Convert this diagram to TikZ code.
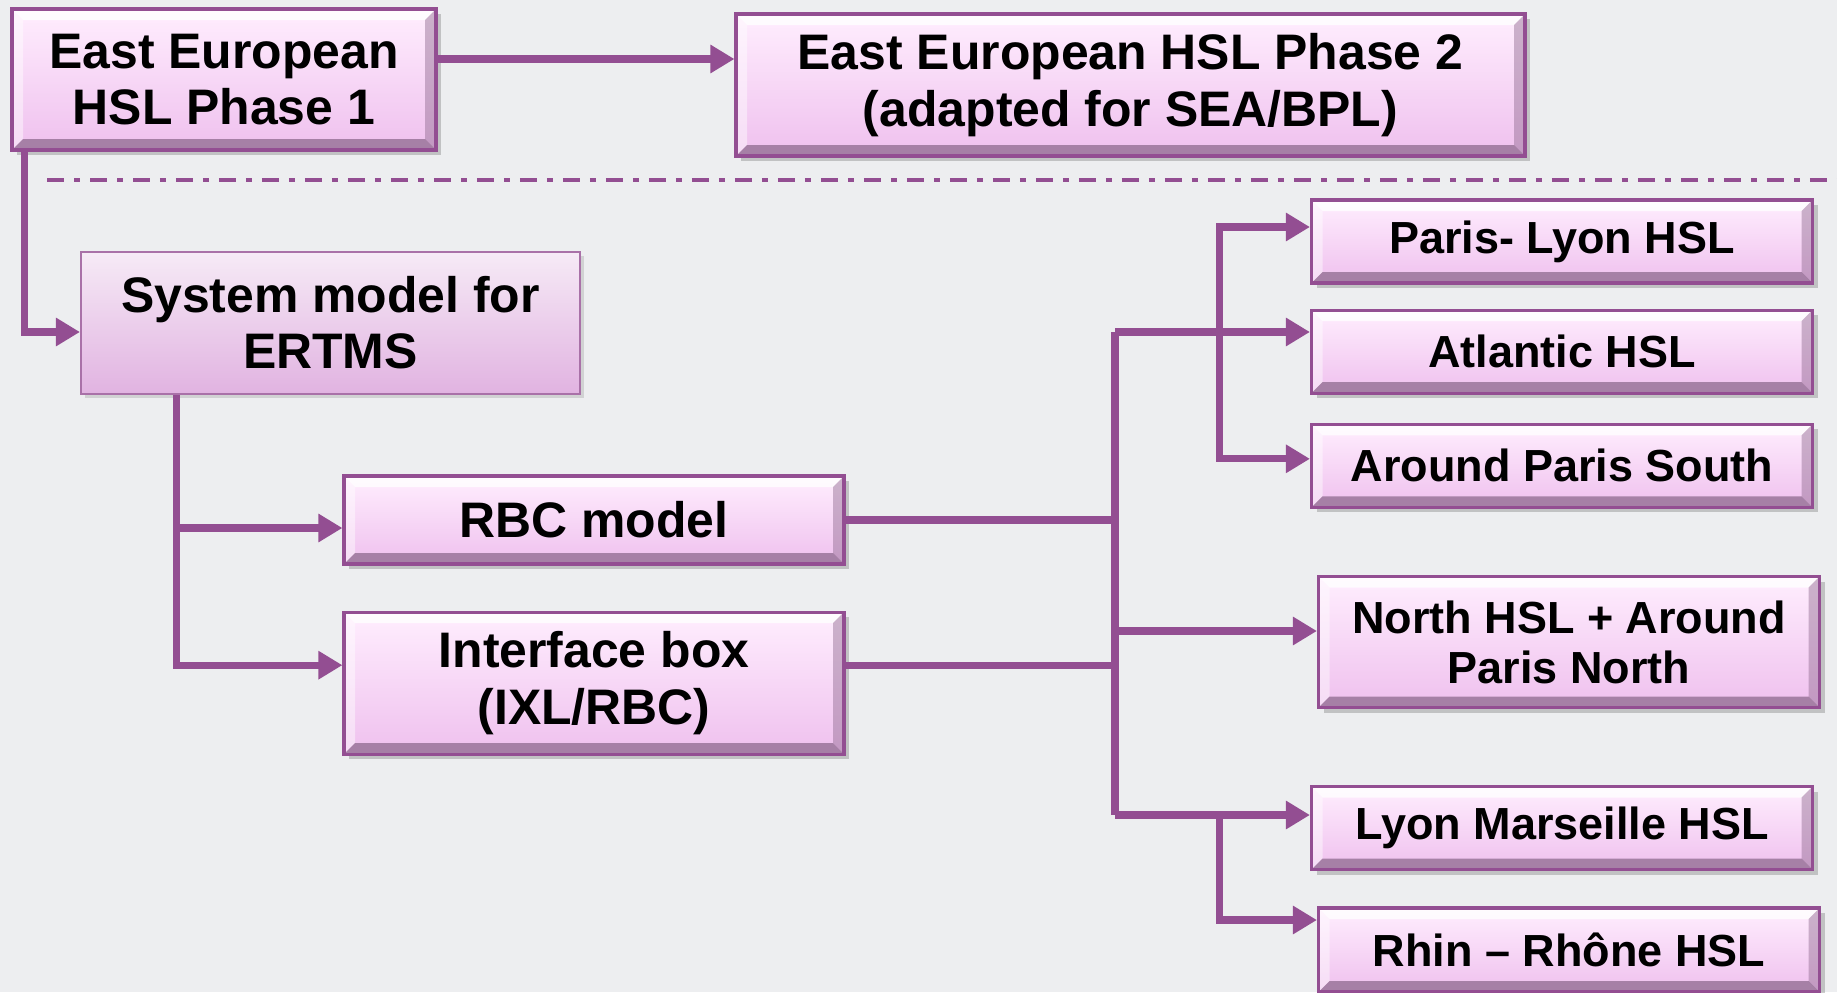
\documentclass[tikz,border=0pt]{standalone}
\usepackage{fontspec}
\setmainfont{Liberation Sans}
\usetikzlibrary{arrows.meta}
\usetikzlibrary{shadows}
\usetikzlibrary{positioning}

\definecolor{bgcol}{HTML}{EDEEF0}
\definecolor{linkcol}{HTML}{934E92}
\definecolor{boxtop}{HTML}{FFEEFE}
\definecolor{boxbot}{HTML}{EFC0EE}
\definecolor{systop}{HTML}{F6EAF6}
\definecolor{sysbot}{HTML}{E1B3E1}
\definecolor{bevdark}{HTML}{8E6A8E}

% bevelled edge of the pink boxes
\newcommand{\bevelbox}{%
  \fill[white,opacity=0.8] (path picture bounding box.north west)
    -- (path picture bounding box.north east)
    -- ([xshift=-1.1mm,yshift=-1.1mm]path picture bounding box.north east)
    -- ([xshift=1.1mm,yshift=-1.1mm]path picture bounding box.north west) -- cycle;
  \fill[white,opacity=0.45] (path picture bounding box.north west)
    -- ([xshift=1.1mm,yshift=-1.1mm]path picture bounding box.north west)
    -- ([xshift=1.1mm,yshift=1.1mm]path picture bounding box.south west)
    -- (path picture bounding box.south west) -- cycle;
  \fill[bevdark,opacity=0.45] (path picture bounding box.north east)
    -- ([xshift=-1.1mm,yshift=-1.1mm]path picture bounding box.north east)
    -- ([xshift=-1.1mm,yshift=1.1mm]path picture bounding box.south east)
    -- (path picture bounding box.south east) -- cycle;
  \fill[bevdark,opacity=0.75] (path picture bounding box.south west)
    -- ([xshift=1.1mm,yshift=1.1mm]path picture bounding box.south west)
    -- ([xshift=-1.1mm,yshift=1.1mm]path picture bounding box.south east)
    -- (path picture bounding box.south east) -- cycle;}

\begin{document}
\begin{tikzpicture}[x=0.1mm,y=-0.1mm,inner sep=0pt,
    hslbox/.style={draw=linkcol,line width=0.9pt,top color=boxtop,bottom color=boxbot,
      minimum width=50.1mm,minimum height=8.3mm,align=center,
      font=\fontsize{14.2}{16}\selectfont\bfseries,
      drop shadow={shadow xshift=0.5mm,shadow yshift=-0.5mm,opacity=0.4},
      path picture={\bevelbox}},
    linebox/.style={hslbox,font=\fontsize{12.8}{14.2}\selectfont\bfseries},
    sysbox/.style={draw=linkcol!80,line width=0.6pt,top color=systop,bottom color=sysbot,
      align=center,font=\fontsize{14.2}{16}\selectfont\bfseries,
      drop shadow={shadow xshift=0.4mm,shadow yshift=-0.4mm,opacity=0.25}},
    link/.style={linkcol,line width=2pt},
    flow/.style={link,-{Triangle[length=2.4mm,width=2.7mm]}},
    sepline/.style={linkcol,line width=1.2pt,
      dash pattern=on 1.7mm off 1mm on 0.6mm off 1mm}]
        \fill[bgcol] (0,0) rectangle (1837,992);
        \useasboundingbox (0,0) rectangle (1837,992);

        \draw node [hslbox,minimum width=42.4mm,minimum height=14.1mm] (EE1)
            at (224,79.5) {East European\\HSL Phase 1};
        \draw node [hslbox,minimum width=78.9mm,minimum height=14.2mm] (EE2)
            at (1130.5,85) {East European HSL Phase 2\\(adapted for SEA/BPL)};
        \draw node [sysbox,minimum width=49.9mm,minimum height=14.2mm] (SYS)
            at (330.5,323) {System model for\\ERTMS};
        \draw node [hslbox,minimum width=50mm,minimum height=8.8mm] (RBC)
            at (594,520) {RBC model};
        \draw node [hslbox,minimum width=50mm,minimum height=14.2mm,below=4.5mm of RBC]
            (IFB) {Interface box\\(IXL/RBC)};
        \draw node [linebox] (PLY) at (1562,241.5) {Paris- Lyon HSL};
        \draw node [linebox,below=2.4mm of PLY] (ATL) {Atlantic HSL};
        \draw node [linebox,below=2.8mm of ATL] (APS) {Around Paris South};
        \draw node [linebox,minimum height=13.1mm] (NTH)
            at (1569,642) {North HSL + Around\\Paris North};
        \draw node [linebox] (LMS) at (1562,828) {Lyon Marseille HSL};
        \draw node [linebox,minimum height=8.4mm] (RRH) at (1569,950) {Rhin – Rhône HSL};

        \draw [sepline] (47,180) -- (1837,180);

        \coordinate (ab) at ([yshift=2.05mm]EE1.east);
        \draw [flow] (ab) -- (ab -| EE2.west);
        \draw [flow] ([xshift=1.4mm]EE1.south west) |- ([yshift=-0.9mm]SYS.west);

        \coordinate (cs) at ([xshift=9.7mm]SYS.south west);
        \draw [flow] (cs) |- ([yshift=-0.8mm]RBC.west);
        \draw [flow] (cs) |- ([yshift=1.8mm]IFB.west);

        \coordinate (up) at (1115,332);
        \coordinate (dn) at (1115,815);
        \coordinate (eo) at ([yshift=1.8mm]IFB.east);
        \draw [link] (up) -- (dn);
        \draw [link] (RBC.east) -- (RBC.east -| up);
        \draw [link] (eo) -- (eo -| up);

        \coordinate (gw) at (up -| ATL.west);
        \draw [flow] (up) -- (gw);
        \draw [flow] ([xshift=-9mm]gw) |- ([yshift=1.45mm]PLY.west);
        \draw [flow] ([xshift=-9mm]gw) |- ([yshift=0.7mm]APS.west);

        \coordinate (iw) at ([yshift=1.1mm]NTH.west);
        \draw [flow] (iw -| up) -- (iw);

        \coordinate (jw) at (dn -| LMS.west);
        \draw [flow] (dn) -- (jw);
        \draw [flow] ([xshift=-9mm]jw) |- ([yshift=3mm]RRH.west);
    \end{tikzpicture}
\end{document}
